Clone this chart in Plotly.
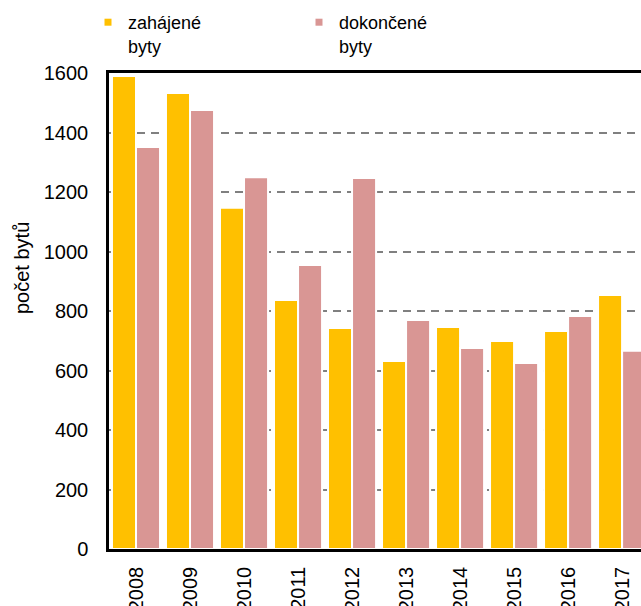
import plotly.graph_objects as go

years = ["2008", "2009", "2010", "2011", "2012", "2013", "2014", "2015", "2016", "2017"]
zahajene = [1590, 1533, 1147, 837, 743, 632, 746, 699, 733, 854]
dokoncene = [1351, 1476, 1250, 955, 1247, 770, 676, 625, 783, 666]
y_ticks = [0, 200, 400, 600, 800, 1000, 1200, 1400, 1600]
series_names = ["zahájené<br>byty", "dokončené<br>byty"]

FONT = "Liberation Sans, Arial, sans-serif"
YELLOW = "#FFC000"
PINK = "#D99694"

fig = go.Figure()
for vals, name, col in [(zahajene, series_names[0], YELLOW), (dokoncene, series_names[1], PINK)]:
    fig.add_trace(go.Bar(
        x=years, y=vals, name=name, legendgroup=name, showlegend=False,
        marker=dict(color=col, line=dict(color="white", width=2)),
    ))
for name, col in [(series_names[0], YELLOW), (series_names[1], PINK)]:
    fig.add_trace(go.Scatter(
        x=[None], y=[None], mode="markers", name=name, legendgroup=name,
        marker=dict(symbol="square", size=7, color=col), showlegend=True,
    ))

fig.update_layout(
    width=641, height=606,
    margin=dict(l=109, r=0, t=73, b=57, autoexpand=False),
    paper_bgcolor="white", plot_bgcolor="white",
    font=dict(family=FONT, size=20, color="black"),
    barmode="group", bargap=0.11, bargroupgap=0.0,
    showlegend=True,
    legend=dict(
        orientation="h", xref="container", yref="container",
        x=88 / 641, y=1.0 - 4 / 606, xanchor="left", yanchor="top",
        font=dict(family=FONT, size=18, color="black"),
        entrywidth=166, entrywidthmode="pixels",
        valign="top", traceorder="normal",
        bgcolor="rgba(0,0,0,0)", borderwidth=0,
    ),
    annotations=[dict(
        text="počet bytů", xref="paper", yref="paper",
        x=-87 / 532, y=(549 - 268) / 476, xanchor="center", yanchor="middle",
        textangle=-90, showarrow=False,
        font=dict(family=FONT, size=20, color="black"),
    )],
)

fig.update_xaxes(
    type="category", range=[-0.5, 9.35], automargin=False,
    showline=True, linecolor="black", linewidth=2.5, mirror=True,
    ticks="", tickangle=-90, ticklabelstandoff=7,
    showgrid=False, tickfont=dict(family=FONT, size=20, color="black"),
)
fig.update_yaxes(
    range=[0, 1600], tickvals=y_ticks, automargin=False,
    showline=True, linecolor="black", linewidth=2.5,
    ticks="", ticklabelstandoff=14,
    showgrid=True, gridcolor="#808080", gridwidth=2, griddash="8px,6px",
    zeroline=False, tickfont=dict(family=FONT, size=20, color="black"),
)

fig.write_html(
    "out.html",
    config={"displayModeBar": False},
    post_script="document.body.style.margin='0';document.body.style.overflow='hidden';",
)
